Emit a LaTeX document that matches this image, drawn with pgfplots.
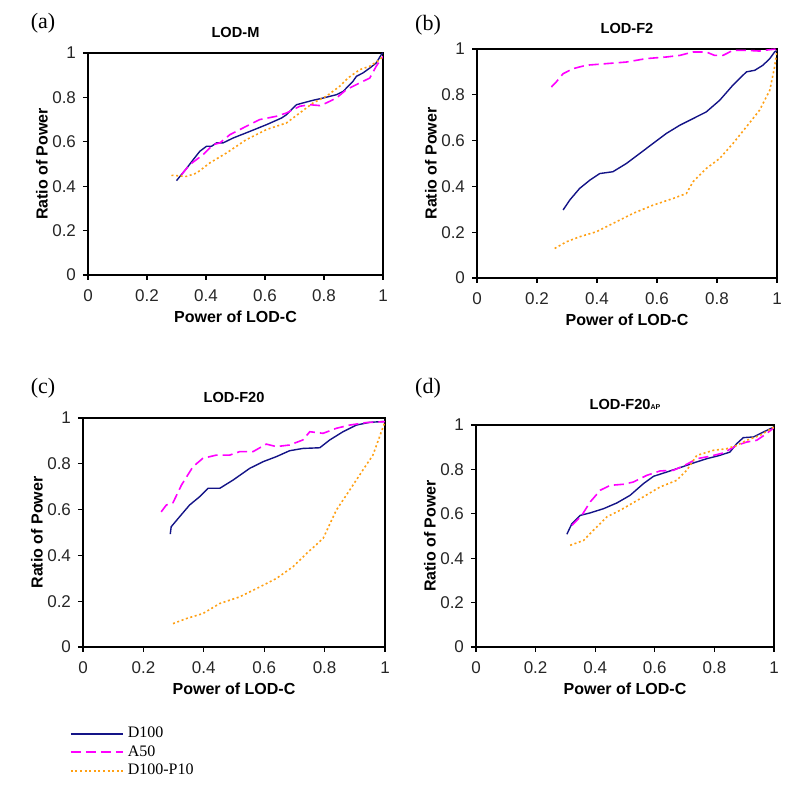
\documentclass[border=0pt]{standalone}
\usepackage{fontspec}
\setmainfont{Liberation Serif}
\newfontfamily\arial{Liberation Sans}
\usepackage{pgfplots}
\pgfplotsset{compat=1.18}

\definecolor{dnavy}{RGB}{20,20,135}
\definecolor{dmag}{RGB}{255,0,255}
\definecolor{dorange}{RGB}{255,160,20}

\pgfplotsset{
  panel/.style={
    scale only axis,
    xmin=0, xmax=1, ymin=0, ymax=1,
    xtick={0,0.2,...,1}, ytick={0,0.2,...,1},
    tick align=outside, major tick length=2.5pt,
    xtick pos=bottom, ytick pos=left,
    axis line style={line width=0.8pt},
    every tick/.style={black, line width=0.6pt},
    /pgf/number format/assume math mode=true,
    tick label style={font=\arial\fontsize{8.5}{9}\selectfont, text=black!85},
    xticklabel style={yshift=-1.5pt},
    xlabel={Power of LOD-C}, ylabel={Ratio of Power},
    every axis x label/.style={at={(axis description cs:0.5,0)}, anchor=center, yshift=-21pt,
      font=\arial\bfseries\fontsize{8}{9}\selectfont},
    every axis y label/.style={at={(axis description cs:0,0.5)}, rotate=90, anchor=center, yshift=23pt,
      font=\arial\bfseries\fontsize{8}{9}\selectfont},
    every axis title/.style={at={(axis description cs:0.5,1)}, anchor=center, yshift=10.5pt,
      font=\arial\bfseries\fontsize{7.3}{8}\selectfont},
  },
  sD/.style={dnavy, line width=0.7pt},
  sA/.style={dmag, line width=0.8pt, dash pattern=on 5pt off 2.5pt},
  sP/.style={dorange, line width=0.8pt, dash pattern=on 1pt off 1.3pt},
}

\begin{document}
\begin{tikzpicture}
\path (0,0) rectangle (400pt,392.5pt);

% (a)
\node[font=\fontsize{11}{12}\selectfont] at (21.5pt,381pt) {(a)};
\begin{axis}[panel, at={(44pt,255pt)}, anchor=south west, width=147.5pt, height=111pt, title={LOD-M}]
\addplot[sD] coordinates {(0.30,0.425) (0.334,0.48) (0.357,0.52) (0.379,0.557) (0.402,0.58) (0.419,0.58) (0.436,0.595) (0.458,0.595) (0.492,0.617) (0.549,0.647) (0.605,0.677) (0.656,0.707) (0.673,0.722) (0.695,0.752) (0.707,0.767) (0.729,0.775) (0.763,0.787) (0.797,0.797) (0.842,0.812) (0.865,0.827) (0.898,0.872) (0.91,0.895) (0.932,0.91) (0.955,0.932) (0.977,0.955) (0.994,0.992) (1,1)};
\addplot[sA] coordinates {(0.317,0.452) (0.345,0.497) (0.39,0.542) (0.424,0.587) (0.447,0.595) (0.481,0.632) (0.537,0.67) (0.582,0.70) (0.639,0.715) (0.673,0.73) (0.718,0.76) (0.752,0.767) (0.786,0.763) (0.808,0.775) (0.842,0.797) (0.876,0.835) (0.921,0.865) (0.955,0.887) (0.977,0.94) (1,0.985)};
\addplot[sP] coordinates {(0.283,0.449) (0.334,0.444) (0.368,0.459) (0.413,0.505) (0.47,0.55) (0.537,0.61) (0.605,0.655) (0.673,0.685) (0.718,0.73) (0.763,0.775) (0.808,0.805) (0.853,0.85) (0.881,0.887) (0.921,0.925) (0.955,0.94) (0.989,0.97) (1,0.985)};
\end{axis}

% (b)
\node[font=\fontsize{11}{12}\selectfont] at (214pt,380pt) {(b)};
\begin{axis}[panel, at={(238.5pt,253.5pt)}, anchor=south west, width=150pt, height=114.5pt, title={LOD-F2}]
\addplot[sD] coordinates {(0.287,0.297) (0.309,0.34) (0.342,0.391) (0.376,0.427) (0.409,0.456) (0.453,0.464) (0.498,0.5) (0.564,0.565) (0.631,0.631) (0.676,0.667) (0.72,0.696) (0.764,0.725) (0.809,0.776) (0.853,0.842) (0.898,0.9) (0.926,0.907) (0.953,0.929) (0.976,0.958) (0.992,0.987) (1,0.994)};
\addplot[sA] coordinates {(0.248,0.834) (0.264,0.856) (0.287,0.892) (0.32,0.914) (0.364,0.929) (0.431,0.936) (0.498,0.943) (0.564,0.958) (0.631,0.965) (0.676,0.972) (0.72,0.987) (0.764,0.987) (0.792,0.972) (0.82,0.972) (0.853,0.994) (0.898,0.994) (0.942,0.991) (0.976,0.997) (1,1)};
\addplot[sP] coordinates {(0.259,0.129) (0.298,0.158) (0.342,0.18) (0.398,0.202) (0.453,0.238) (0.52,0.282) (0.587,0.318) (0.653,0.347) (0.698,0.369) (0.72,0.42) (0.764,0.478) (0.809,0.522) (0.853,0.587) (0.898,0.66) (0.942,0.733) (0.976,0.82) (0.992,0.922) (1,0.994)};
\end{axis}

% (c)
\node[font=\fontsize{11}{12}\selectfont] at (21.5pt,198.5pt) {(c)};
\begin{axis}[panel, at={(41.5pt,69pt)}, anchor=south west, width=151pt, height=114.5pt, title={LOD-F20},
  legend cell align=left,
  legend style={at={(axis description cs:-0.045,-0.33)}, anchor=north west, draw=none, fill=none,
    font=\fontsize{8}{8.75}\selectfont, inner sep=0pt, row sep=-1.6pt,
    /tikz/every even column/.append style={column sep=3.5pt}},
  legend image code/.code={\draw[#1, line width=1pt] (0pt,0pt) -- (26pt,0pt);}]
\addplot[sD] coordinates {(0.289,0.493) (0.292,0.525) (0.32,0.569) (0.353,0.62) (0.386,0.656) (0.414,0.693) (0.453,0.693) (0.497,0.729) (0.552,0.78) (0.596,0.809) (0.64,0.831) (0.684,0.857) (0.728,0.867) (0.784,0.87) (0.817,0.904) (0.861,0.94) (0.905,0.969) (0.949,0.981) (1,0.985)};
\addlegendentry{D100}
\addplot[sA] coordinates {(0.259,0.59) (0.276,0.62) (0.298,0.63) (0.326,0.707) (0.364,0.787) (0.397,0.824) (0.442,0.838) (0.486,0.838) (0.519,0.853) (0.563,0.853) (0.607,0.886) (0.64,0.875) (0.684,0.882) (0.728,0.904) (0.751,0.94) (0.795,0.933) (0.839,0.955) (0.883,0.969) (0.938,0.98) (1,0.984)};
\addlegendentry{A50}
\addplot[sP] coordinates {(0.298,0.102) (0.342,0.124) (0.397,0.146) (0.453,0.19) (0.519,0.219) (0.585,0.262) (0.64,0.299) (0.695,0.35) (0.74,0.408) (0.795,0.474) (0.839,0.598) (0.883,0.685) (0.927,0.773) (0.96,0.838) (0.982,0.918) (1,0.984)};
\addlegendentry{D100-P10}
\end{axis}

% (d)
\node[font=\fontsize{11}{12}\selectfont] at (214pt,198.5pt) {(d)};
\begin{axis}[panel, at={(238pt,69pt)}, anchor=south west, width=149pt, height=111pt,
  title={LOD-F20{\fontsize{3.5}{4}\selectfont AP}}]
\addplot[sD] coordinates {(0.305,0.508) (0.322,0.556) (0.35,0.593) (0.383,0.604) (0.428,0.623) (0.473,0.649) (0.517,0.683) (0.562,0.736) (0.596,0.769) (0.64,0.788) (0.685,0.808) (0.73,0.829) (0.774,0.848) (0.818,0.863) (0.852,0.878) (0.875,0.916) (0.897,0.943) (0.931,0.946) (0.964,0.968) (1,0.991)};
\addplot[sA] coordinates {(0.322,0.548) (0.355,0.593) (0.383,0.653) (0.417,0.706) (0.45,0.728) (0.495,0.733) (0.528,0.743) (0.573,0.773) (0.618,0.793) (0.663,0.796) (0.707,0.823) (0.741,0.848) (0.785,0.859) (0.83,0.874) (0.875,0.908) (0.908,0.923) (0.942,0.931) (0.975,0.961) (1,0.988)};
\addplot[sP] coordinates {(0.316,0.458) (0.361,0.48) (0.394,0.526) (0.439,0.586) (0.484,0.616) (0.551,0.668) (0.618,0.721) (0.674,0.751) (0.707,0.796) (0.741,0.863) (0.797,0.886) (0.841,0.893) (0.875,0.908) (0.908,0.931) (0.953,0.953) (1,0.991)};
\end{axis}
\end{tikzpicture}
\end{document}
